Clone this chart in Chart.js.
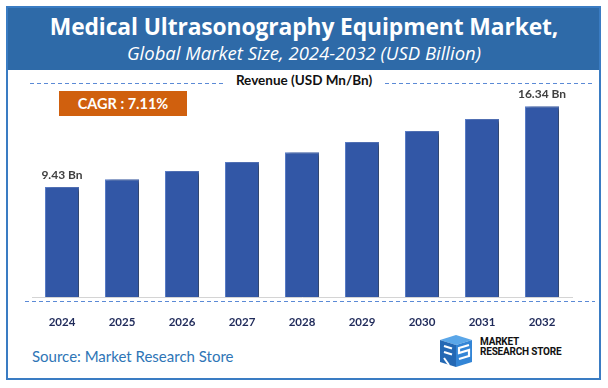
<!DOCTYPE html>
<html>
<head>
<meta charset="utf-8">
<script src="https://cdn.jsdelivr.net/npm/chart.js@4/dist/chart.umd.min.js"></script>
<style>
  html, body { margin:0; padding:0; background:#ffffff; }
  body { width:608px; height:388px; position:relative; overflow:hidden; font-family: Lato, "Open Sans", sans-serif; }
  .frame { position:absolute; left:6px; top:6px; width:595px; height:374px; border:2px solid #3a7cc3; box-sizing:border-box; }
  .header { position:absolute; left:7px; top:7px; width:593px; height:63px; background:#2e6aa8; }
  .title { position:absolute; left:0; width:608px; top:12px; text-align:center; color:#fff; font-family:"Open Sans", sans-serif; font-weight:700; font-size:22.8px; line-height:30px; letter-spacing:-0.1px; }
  .subtitle { position:absolute; left:0; width:608px; top:41px; text-align:center; color:#fff; font-family:"Open Sans", sans-serif; font-style:italic; font-size:18.5px; line-height:24px; }
  .revenue { position:absolute; left:0; width:608px; top:72px; text-align:center; color:#111; font-weight:700; font-size:13.5px; line-height:16px; }
  .cagr { position:absolute; left:59px; top:91px; width:128px; height:25px; background:#d0600e; color:#fff; font-weight:700; font-size:14.5px; line-height:25px; text-align:center; }
  .source { position:absolute; left:32px; top:346px; color:#2e75b6; font-size:15px; line-height:20px; }
  .logo { position:absolute; left:436px; top:334px; }
  .logotext { position:absolute; left:480px; top:337px; font-family:"Roboto", sans-serif; font-weight:700; font-size:10px; line-height:10px; color:#111; letter-spacing:-0.2px; }
  canvas { position:absolute; left:0; top:0; }
</style>
</head>
<body>
<div class="header"></div>
<div class="frame"></div>
<div class="title">Medical Ultrasonography Equipment Market,</div>
<div class="subtitle">Global Market Size, 2024-2032 (USD Billion)</div>
<div class="revenue">Revenue (USD Mn/Bn)</div>
<div class="cagr">CAGR : 7.11%</div>
<div class="source">Source: Market Research Store</div>
<svg class="logo" width="40" height="34" viewBox="0 0 40 34">
  <polygon points="4,6 20,1 36,6 20,11" fill="#5aa6e8"/>
  <polygon points="4,6 20,11 20,33 4,28" fill="#2468b4"/>
  <polygon points="20,11 36,6 36,28 20,33" fill="#3385d6"/>
  <path d="M8,12 L16,14.5 M8,18 L16,20.5" stroke="#fff" stroke-width="2.2" fill="none"/>
  <path d="M33,11 L23,14 L23,19 L33,16 L33,22 L23,25" stroke="#fff" stroke-width="2.2" fill="none"/>
  <path d="M8,24 L13,31" stroke="#fff" stroke-width="2" fill="none"/>
</svg>
<div class="logotext">MARKET<br>RESEARCH STORE</div>
<canvas id="c" width="608" height="388"></canvas>
<script>
const categories = ["2024","2025","2026","2027","2028","2029","2030","2031","2032"];
const revenue = [9.43, 10.10, 10.80, 11.58, 12.41, 13.28, 14.22, 15.25, 16.34];
const labelledIndexes = [0, 8];
const valueSuffix = " Bn";

const shadowPlugin = {
  id: 'barShadow',
  beforeDatasetsDraw(chart) {
    const ctx = chart.ctx;
    ctx.save();
    ctx.shadowColor = 'rgba(0,0,0,0.45)';
    ctx.shadowOffsetX = 4;
    ctx.shadowOffsetY = 1;
    ctx.shadowBlur = 4;
  },
  afterDatasetsDraw(chart) {
    chart.ctx.restore();
  }
};

const decoPlugin = {
  id: 'deco',
  afterDraw(chart) {
    const ctx = chart.ctx;
    const area = chart.chartArea;
    ctx.save();
    ctx.strokeStyle = '#5b8ad6';
    ctx.lineWidth = 1;
    ctx.setLineDash([4, 3]);
    ctx.beginPath();
    ctx.moveTo(25, area.bottom + 4.5);
    ctx.lineTo(595, area.bottom + 4.5);
    ctx.stroke();
    ctx.beginPath();
    ctx.moveTo(30, 83.5);
    ctx.lineTo(225, 83.5);
    ctx.moveTo(385, 83.5);
    ctx.lineTo(594, 83.5);
    ctx.stroke();
    ctx.restore();

    const meta = chart.getDatasetMeta(0);
    ctx.save();
    ctx.font = 'bold 12px Lato, sans-serif';
    ctx.fillStyle = '#404040';
    ctx.textAlign = 'center';
    ctx.textBaseline = 'middle';
    labelledIndexes.forEach(i => {
      const bar = meta.data[i];
      ctx.fillText(revenue[i].toFixed(2) + valueSuffix, bar.x, bar.y - 12);
    });
    ctx.restore();
  }
};

new Chart(document.getElementById('c'), {
  type: 'bar',
  data: {
    labels: categories,
    datasets: [{
      data: revenue,
      backgroundColor: '#3257a6',
      borderColor: '#5a7cc6',
      borderWidth: 1,
      categoryPercentage: 1,
      barPercentage: 0.567
    }]
  },
  options: {
    responsive: false,
    animation: false,
    devicePixelRatio: 1,
    layout: { padding: { left: 32, right: 36, top: 87, bottom: 61 } },
    plugins: { legend: { display: false }, tooltip: { enabled: false } },
    scales: {
      x: {
        grid: { display: false },
        border: { display: true, color: '#d4d4d4', width: 1 },
        ticks: { color: '#1f2a5a', font: { family: 'Lato', weight: 'bold', size: 11.5 }, padding: 10 },
        afterFit(axis) { axis.height = 30; }
      },
      y: { display: false, min: 0, max: 18 }
    }
  },
  plugins: [shadowPlugin, decoPlugin]
});
</script>
</body>
</html>
